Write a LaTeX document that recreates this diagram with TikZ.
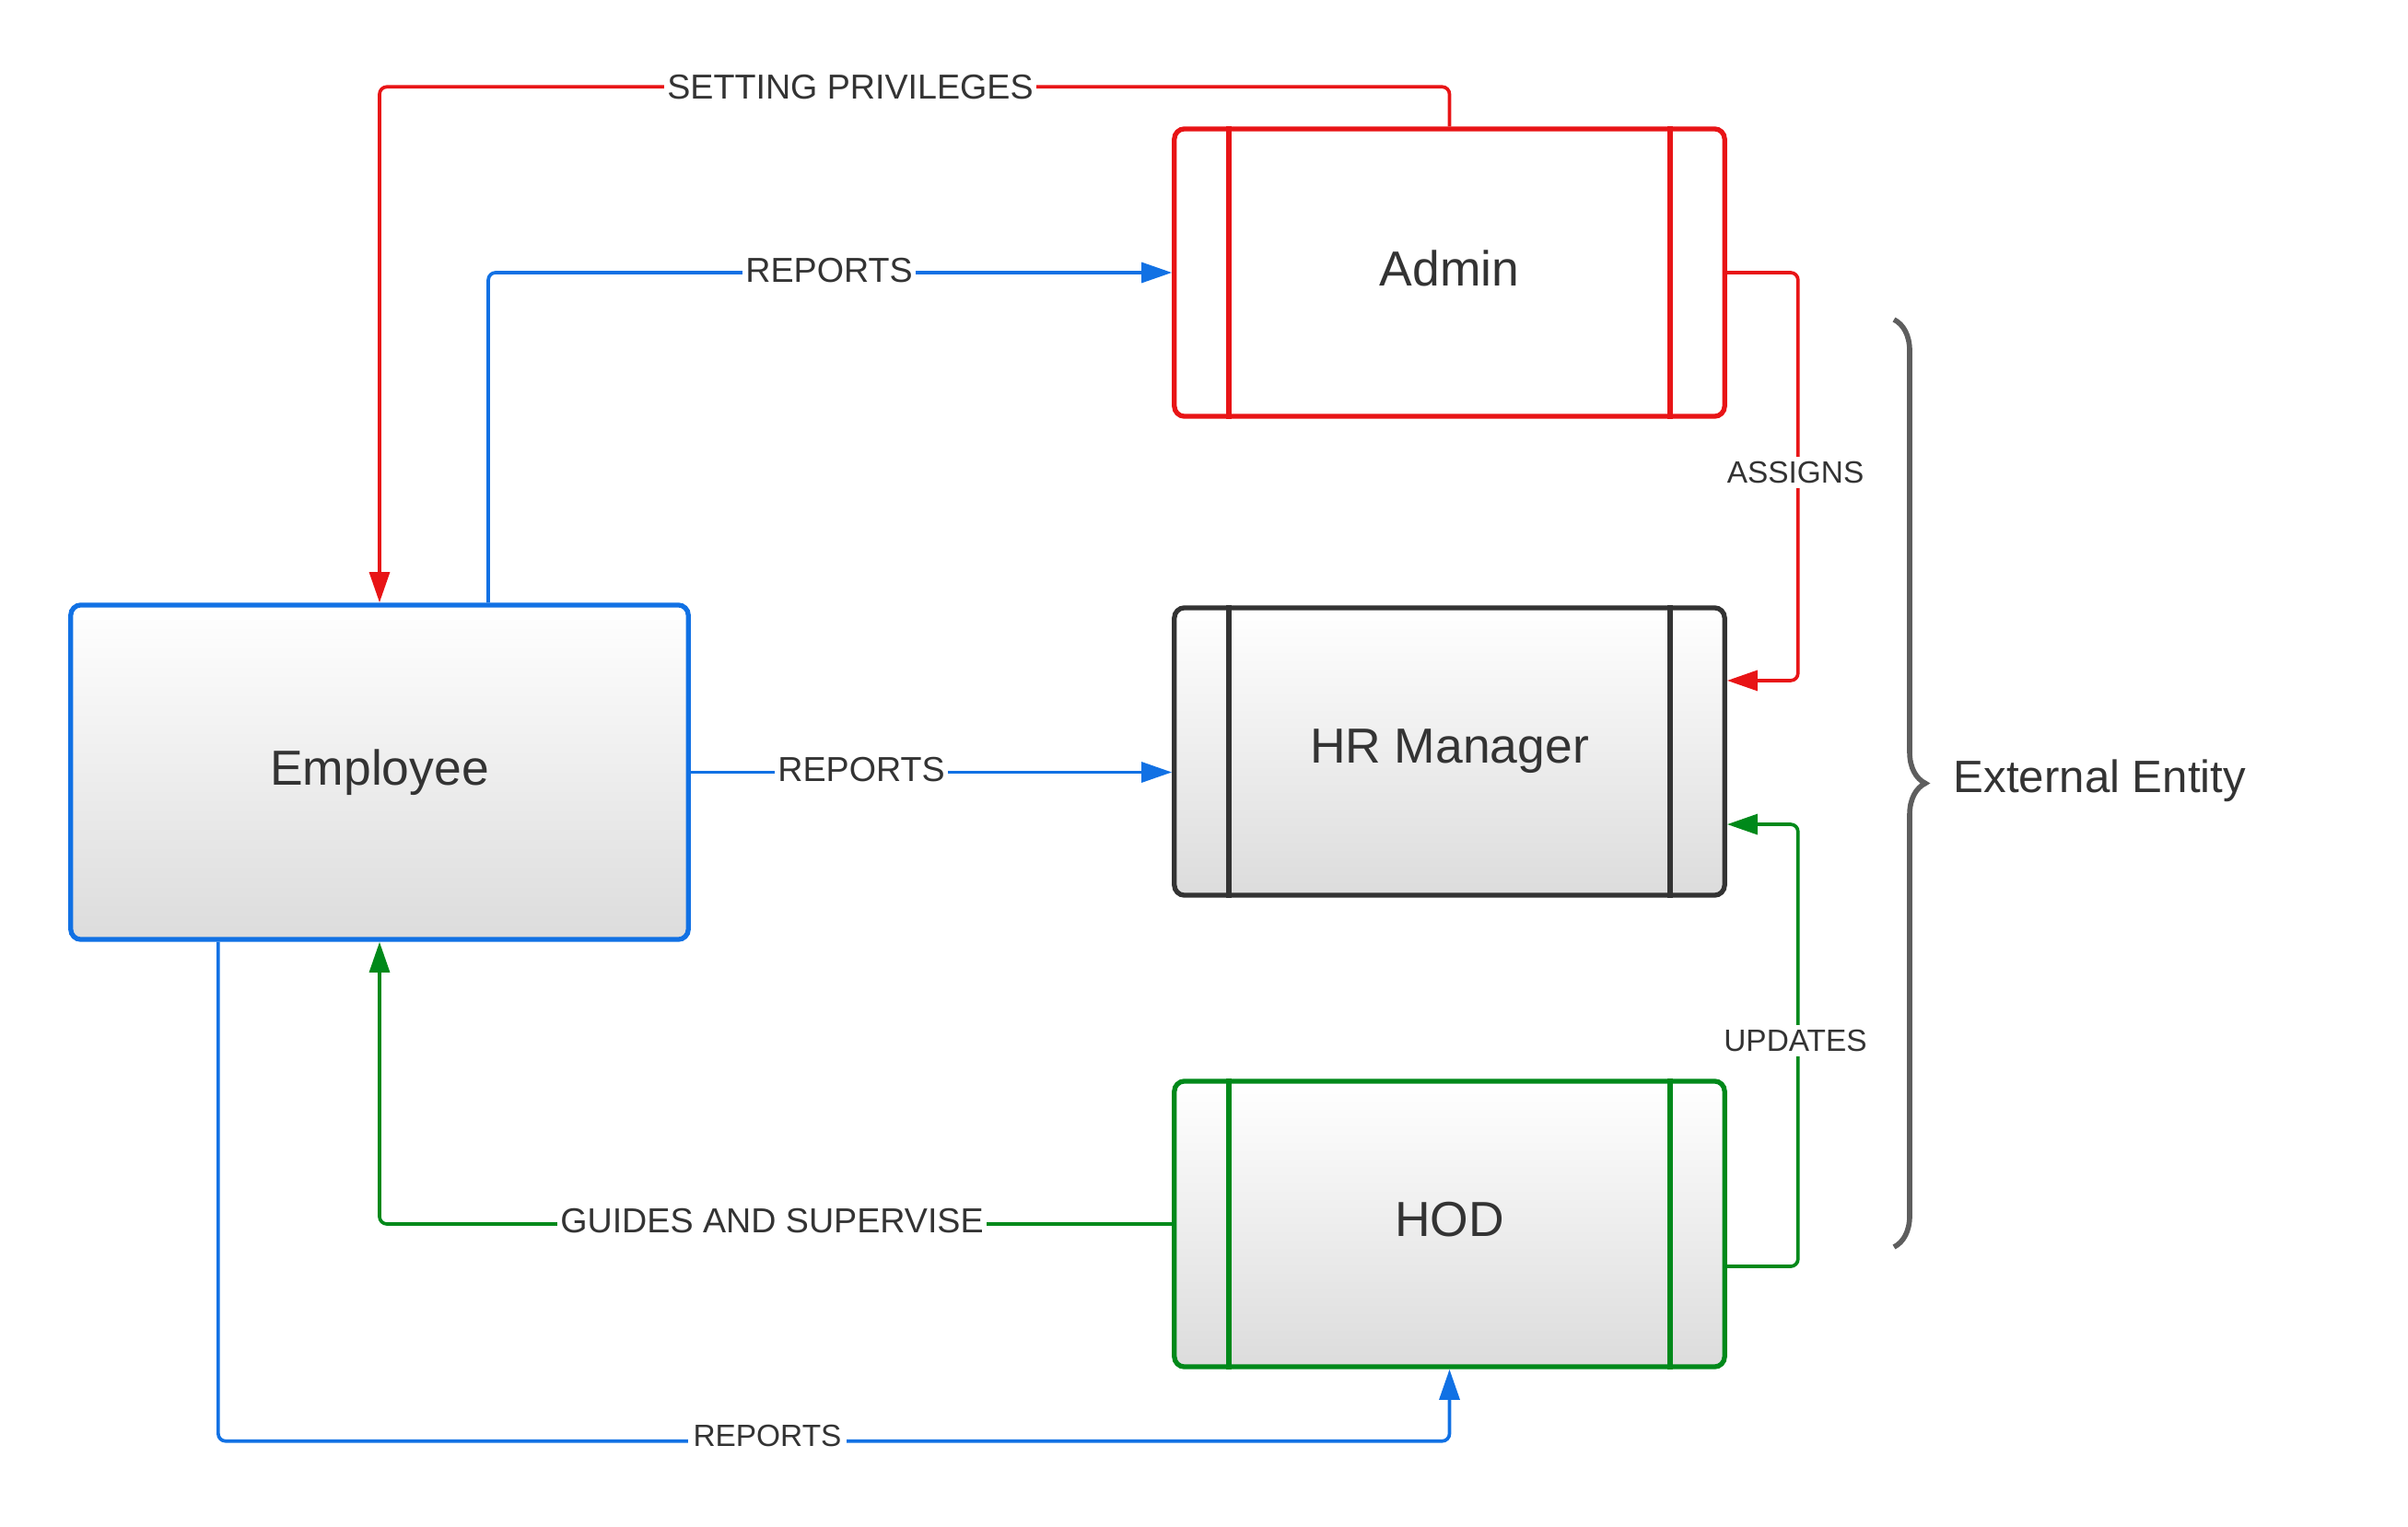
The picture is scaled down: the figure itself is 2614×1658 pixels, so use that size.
\documentclass[tikz,border=0pt]{standalone}
\usepackage{fontspec}
\setmainfont{Liberation Sans}
\usetikzlibrary{arrows.meta,calc,decorations.pathreplacing}

\definecolor{cred}{HTML}{E81416}
\definecolor{cblue}{HTML}{1171E4}
\definecolor{cgreen}{HTML}{00891A}
\definecolor{cdark}{HTML}{333333}
\definecolor{cbrace}{HTML}{5E5E5E}
\definecolor{cshade}{HTML}{DCDCDC}
\definecolor{cmid}{HTML}{F2F2F2}

\begin{document}
\begin{tikzpicture}[x=0.01cm,y=-0.01cm,
  entity/.style={draw, line width=1.5pt, rounded corners=0.11cm,
    minimum width=5.97cm, minimum height=3.12cm, inner sep=0pt,
    font=\fontsize{15.2}{18}\selectfont, text=cdark},
  grad/.style={top color=white, middle color=cmid, bottom color=cshade},
  conn/.style={line width=1.05pt, rounded corners=0.08cm},
  arr/.style={-{Triangle[length=9.4pt,width=6.2pt]}},
  lbl/.style={fill=white, inner sep=1pt, text=cdark, font=\fontsize{10.7}{12}\selectfont},
  slbl/.style={fill=white, inner sep=1.5pt, text=cdark, font=\fontsize{9.5}{11}\selectfont}
]
\useasboundingbox (0,0) rectangle (2614,1658);

% entities
\node[entity, draw=cred, fill=white] (admin) at (1573.5,296) {\raisebox{0.1cm}{Admin}};
\node[entity, draw=cdark, grad] (hr) at (1573.5,816) {HR Manager};
\node[entity, draw=cgreen, grad, minimum height=3.10cm] (hod) at (1573.5,1329) {\raisebox{0.1cm}{HOD}};
\node[entity, draw=cblue, grad, minimum width=6.70cm, minimum height=3.63cm] (emp) at (412,838.5) {Employee};

% inner vertical bars
\foreach \n/\c in {admin/cred, hr/cdark, hod/cgreen}{
  \draw[\c, line width=1.6pt] ($(\n.north west)+(62,0)$) -- ($(\n.south west)+(62,0)$);
  \draw[\c, line width=1.6pt] ($(\n.north east)+(-62,0)$) -- ($(\n.south east)+(-62,0)$);
}

% connectors
\draw[conn, arr, cred] (admin.north) -- ++(0,-43) -| (emp.north);
\node[lbl] (lsp) at (923,95) {SETTING PRIVILEGES};

\draw[conn, arr, cblue] ([xshift=1.18cm]emp.north) |- (admin.west);
\node[lbl] (lr1) at (900,294) {REPORTS};

\draw[conn, arr, cred] (admin.east) -- ++(77,0) |- ([yshift=0.77cm]hr.east);
\node[slbl] (las) at (1949,513) {ASSIGNS};

\draw[conn, arr, cblue] (emp.east) -- (emp.east -| hr.west);
\node[lbl] (lr2) at (935,836) {REPORTS};

\draw[conn, arr, cgreen] ([yshift=-0.46cm]hod.east) -- ++(77,0) |- ([yshift=-0.79cm]hr.east);
\node[slbl] (lup) at (1949,1130) {UPDATES};

\draw[conn, arr, cgreen] (hod.west) -| (emp.south);
\node[lbl] (lgs) at (838,1326) {GUIDES AND SUPERVISE};

\draw[conn, arr, cblue] ([xshift=-1.75cm]emp.south) |- ($(hod.south)+(0,78)$) -- (hod.south);
\node[slbl] (lr3) at (833,1559) {REPORTS};

% brace
\coordinate (bt) at (2056,347);
\coordinate (bb) at (2056,1354);
\draw[cbrace, line width=1.6pt, decorate, decoration={brace, amplitude=0.34cm}] (bt) -- (bb);
\node[anchor=west, text=cdark, inner sep=0pt, font=\fontsize{14}{17}\selectfont] (ext) at (2120,848) {External Entity};
\end{tikzpicture}
\end{document}
